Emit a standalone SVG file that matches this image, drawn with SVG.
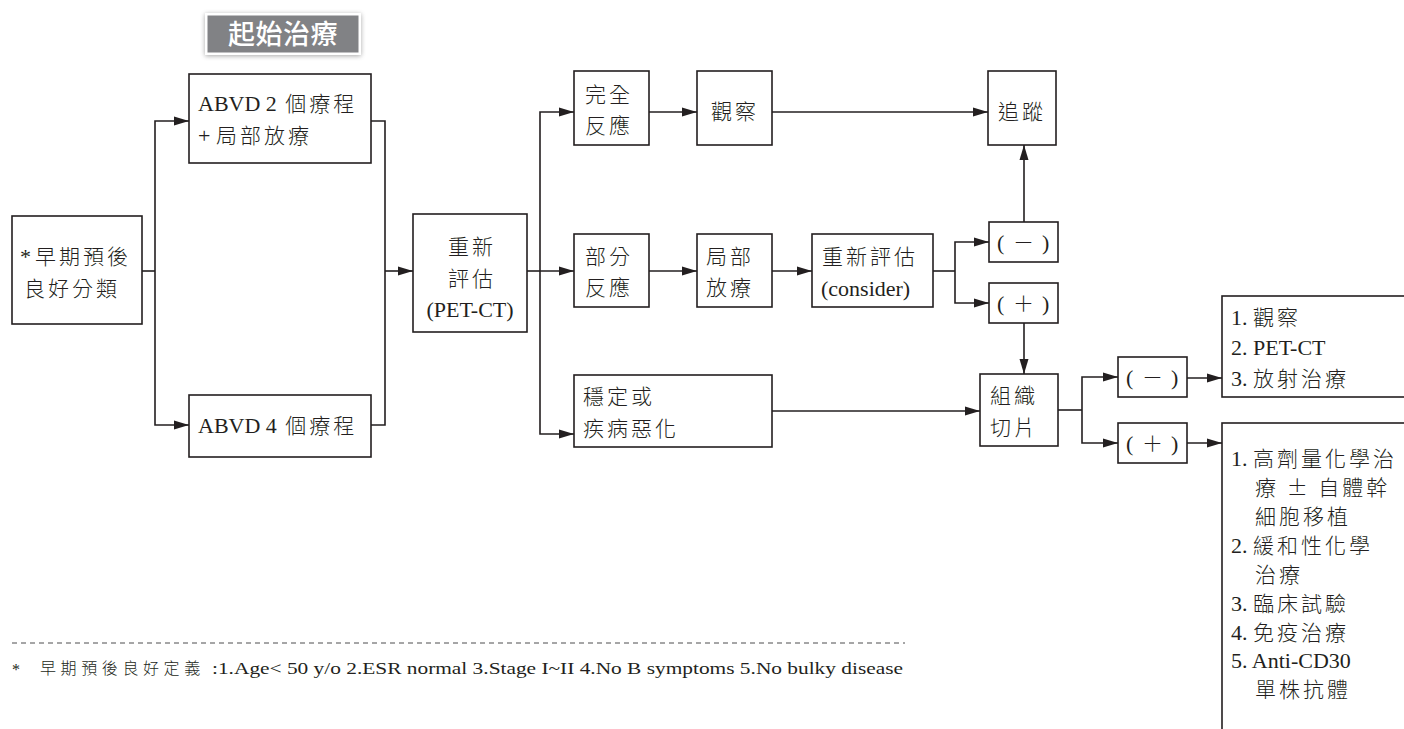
<svg xmlns="http://www.w3.org/2000/svg" width="1404" height="729" viewBox="0 0 1404 729">
<style>
  .box { fill: #ffffff; stroke: #231f20; stroke-width: 1.6; }
  .ln { fill: none; stroke: #231f20; stroke-width: 1.6; }
  .arr { fill: none; stroke: #231f20; stroke-width: 1.6; marker-end: url(#ah); }
  .t { font-size: 22px; fill: #231f20; }
  .c { font-family: "Noto Sans CJK TC", sans-serif; font-size: 21px; letter-spacing: 3px; font-weight: 300; }
  .m { text-anchor: middle; }
</style>
<defs>
  <marker id="ah" viewBox="0 0 15 10" refX="15" refY="5" markerWidth="15" markerHeight="10" markerUnits="userSpaceOnUse" orient="auto">
    <path d="M0,0.5 L15,5 L0,9.5 z" fill="#231f20"/>
  </marker>
  <filter id="sh" x="-20%" y="-40%" width="140%" height="180%">
    <feGaussianBlur in="SourceAlpha" stdDeviation="2.5"/>
    <feOffset dx="0" dy="1" result="b"/>
    <feComponentTransfer><feFuncA type="linear" slope="0.35"/></feComponentTransfer>
    <feMerge><feMergeNode/><feMergeNode in="SourceGraphic"/></feMerge>
  </filter>
</defs>
<rect width="1404" height="729" fill="#ffffff"/>

<g id="header">
  <rect x="205" y="13" width="156" height="42" fill="#ffffff" filter="url(#sh)"/>
  <rect x="207.5" y="15.5" width="151" height="37" fill="#818285"/>
  <text x="283" y="44" text-anchor="middle" font-family="'Noto Sans CJK TC', sans-serif" font-size="27" font-weight="500" fill="#ffffff" letter-spacing="0.5">起始治療</text>
</g>

<g id="connectors">
  <path class="ln" d="M142,271 H155"/>
  <path class="arr" d="M155,271 V121 H189"/>
  <path class="arr" d="M155,271 V425 H189"/>
  <path class="ln" d="M371,121 H385 V425 H371"/>
  <path class="arr" d="M385,271 H413"/>
  <path class="ln" d="M527,271 H540"/>
  <path class="arr" d="M540,271 V112 H574"/>
  <path class="arr" d="M540,271 H574"/>
  <path class="arr" d="M540,271 V434 H574"/>
  <path class="arr" d="M649,112 H697"/>
  <path class="arr" d="M772,112 H988"/>
  <path class="arr" d="M649,271 H697"/>
  <path class="arr" d="M772,271 H812"/>
  <path class="ln" d="M933,271 H955"/>
  <path class="arr" d="M955,271 V242 H989"/>
  <path class="arr" d="M955,271 V303 H989"/>
  <path class="arr" d="M1024,222 V145"/>
  <path class="arr" d="M1024,323 V374"/>
  <path class="arr" d="M772,411 H980"/>
  <path class="ln" d="M1058,410 H1082"/>
  <path class="arr" d="M1082,410 V377 H1118"/>
  <path class="arr" d="M1082,410 V443 H1118"/>
  <path class="arr" d="M1187,378 H1222"/>
  <path class="arr" d="M1187,443 H1222"/>
</g>

<g font-family="Liberation Serif, serif">
<g id="n-early">
  <rect class="box" x="12" y="216" width="130" height="108"/>
  <text class="t" x="20" y="264">*<tspan class="c" dx="4">早期預後</tspan></text>
  <text class="t" x="24" y="296"><tspan class="c">良好分類</tspan></text>
</g>

<g id="n-abvd2">
  <rect class="box" x="189" y="74" width="182" height="89"/>
  <text class="t" x="198" y="111">ABVD 2 <tspan class="c" dx="3">個療程</tspan></text>
  <text class="t" x="198" y="143">+ <tspan class="c">局部放療</tspan></text>
</g>

<g id="n-abvd4">
  <rect class="box" x="189" y="395" width="182" height="62"/>
  <text class="t" x="198" y="433">ABVD 4 <tspan class="c" dx="3">個療程</tspan></text>
</g>

<g id="n-reeval">
  <rect class="box" x="413" y="214" width="114" height="118"/>
  <text class="t m" x="472" y="254"><tspan class="c">重新</tspan></text>
  <text class="t m" x="472" y="286"><tspan class="c">評估</tspan></text>
  <text class="t m" x="470" y="317">(PET-CT)</text>
</g>

<g id="n-cr">
  <rect class="box" x="574" y="71" width="75" height="74"/>
  <text class="t" x="585" y="102"><tspan class="c">完全</tspan></text>
  <text class="t" x="585" y="133"><tspan class="c">反應</tspan></text>
</g>

<g id="n-observe">
  <rect class="box" x="697" y="71" width="75" height="74"/>
  <text class="t" x="711" y="119"><tspan class="c">觀察</tspan></text>
</g>

<g id="n-follow">
  <rect class="box" x="988" y="71" width="68" height="74"/>
  <text class="t" x="998" y="119"><tspan class="c">追蹤</tspan></text>
</g>

<g id="n-pr">
  <rect class="box" x="574" y="234" width="75" height="73"/>
  <text class="t" x="585" y="264"><tspan class="c">部分</tspan></text>
  <text class="t" x="585" y="295"><tspan class="c">反應</tspan></text>
</g>

<g id="n-local">
  <rect class="box" x="697" y="234" width="75" height="73"/>
  <text class="t" x="706" y="264"><tspan class="c">局部</tspan></text>
  <text class="t" x="706" y="295"><tspan class="c">放療</tspan></text>
</g>

<g id="n-consider">
  <rect class="box" x="812" y="234" width="121" height="73"/>
  <text class="t" x="822" y="264"><tspan class="c">重新評估</tspan></text>
  <text class="t" x="821" y="296">(consider)</text>
</g>

<g id="n-neg1">
  <rect class="box" x="989" y="222" width="69" height="40"/>
  <text class="t" y="250"><tspan x="997">(</tspan><tspan class="c" x="1013" letter-spacing="0">－</tspan><tspan x="1042">)</tspan></text>
</g>

<g id="n-pos1">
  <rect class="box" x="989" y="283" width="69" height="40"/>
  <text class="t" y="311"><tspan x="997">(</tspan><tspan class="c" x="1013" letter-spacing="0">＋</tspan><tspan x="1042">)</tspan></text>
</g>

<g id="n-stable">
  <rect class="box" x="574" y="375" width="198" height="72"/>
  <text class="t" x="583" y="404"><tspan class="c">穩定或</tspan></text>
  <text class="t" x="583" y="436"><tspan class="c">疾病惡化</tspan></text>
</g>

<g id="n-biopsy">
  <rect class="box" x="980" y="374" width="78" height="72"/>
  <text class="t" x="990" y="403"><tspan class="c">組織</tspan></text>
  <text class="t" x="990" y="435"><tspan class="c">切片</tspan></text>
</g>

<g id="n-neg2">
  <rect class="box" x="1118" y="357" width="69" height="40"/>
  <text class="t" y="385"><tspan x="1126">(</tspan><tspan class="c" x="1142" letter-spacing="0">－</tspan><tspan x="1171">)</tspan></text>
</g>

<g id="n-pos2">
  <rect class="box" x="1118" y="423" width="69" height="40"/>
  <text class="t" y="451"><tspan x="1126">(</tspan><tspan class="c" x="1142" letter-spacing="0">＋</tspan><tspan x="1171">)</tspan></text>
</g>

<g id="n-list1">
  <rect class="box" x="1222" y="296" width="200" height="101"/>
  <text class="t" x="1231" y="325">1. <tspan class="c">觀察</tspan></text>
  <text class="t" x="1231" y="355">2. PET-CT</text>
  <text class="t" x="1231" y="386">3. <tspan class="c">放射治療</tspan></text>
</g>

<g id="n-list2">
  <rect class="box" x="1222" y="423" width="200" height="330"/>
  <text class="t" x="1231" y="466">1. <tspan class="c">高劑量化學治</tspan></text>
  <text class="t" x="1255" y="495"><tspan class="c">療 ± 自體幹</tspan></text>
  <text class="t" x="1255" y="524"><tspan class="c">細胞移植</tspan></text>
  <text class="t" x="1231" y="553">2. <tspan class="c">緩和性化學</tspan></text>
  <text class="t" x="1255" y="582"><tspan class="c">治療</tspan></text>
  <text class="t" x="1231" y="611">3. <tspan class="c">臨床試驗</tspan></text>
  <text class="t" x="1231" y="640">4. <tspan class="c">免疫治療</tspan></text>
  <text class="t" x="1231" y="668">5. Anti-CD30</text>
  <text class="t" x="1255" y="697"><tspan class="c">單株抗體</tspan></text>
</g>

<g id="footnote">
  <line x1="12" y1="643" x2="905" y2="643" stroke="#4d4d4f" stroke-width="1" stroke-dasharray="5 4"/>
  <text x="12" y="675" font-size="16" fill="#231f20">*</text>
  <text x="40" y="674" font-family="'Noto Sans CJK TC', sans-serif" font-size="16" font-weight="300" letter-spacing="4.6" fill="#231f20">早期預後良好定義</text>
  <text x="212" y="674" font-size="17" fill="#231f20" textLength="691" lengthAdjust="spacingAndGlyphs">:1.Age&lt; 50 y/o 2.ESR normal 3.Stage I~II 4.No B symptoms 5.No bulky disease</text>
</g>
</g>
</svg>
